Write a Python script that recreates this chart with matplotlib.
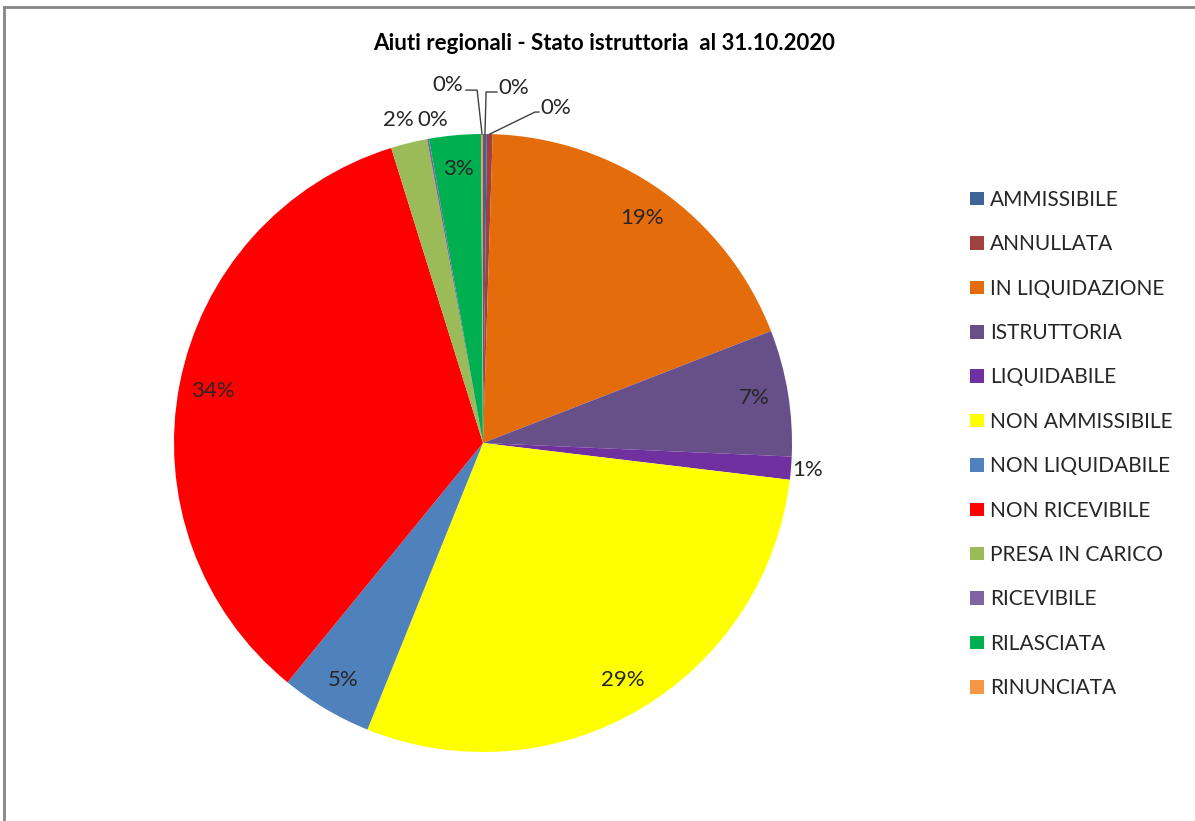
import numpy as np
import matplotlib.pyplot as plt
from matplotlib.lines import Line2D

# data
categories = ['AMMISSIBILE', 'ANNULLATA', 'IN LIQUIDAZIONE', 'ISTRUTTORIA', 'LIQUIDABILE',
              'NON AMMISSIBILE', 'NON LIQUIDABILE', 'NON RICEVIBILE', 'PRESA IN CARICO',
              'RICEVIBILE', 'RILASCIATA', 'RINUNCIATA']
values = [0.2, 0.3, 18.6, 6.6, 1.2, 29.2, 4.8, 34.3, 1.9, 0.1, 2.7, 0.1]
colors = ['#3F6497', '#A0413E', '#E46C0A', '#674F89', '#7030A0', '#FFFF00',
          '#4F81BD', '#FF0000', '#9BBB59', '#8064A2', '#00B050', '#F79646']
title = 'Aiuti regionali - Stato istruttoria  al 31.10.2020'

plt.rcParams['font.family'] = ['Lato', 'DejaVu Sans']

W, H = 1195, 821
fig = plt.figure(figsize=(W / 100, H / 100), dpi=100)

# pie centre and radius in pixels
cx, cy, rad = 483, 443, 309
ax = fig.add_axes([(cx - rad) / W, (H - cy - rad) / H, 2 * rad / W, 2 * rad / H])
wedges, _ = ax.pie(values, colors=colors, startangle=90, counterclock=False,
                   radius=1, wedgeprops=dict(linewidth=0))
ax.set_xlim(-1, 1)
ax.set_ylim(-1, 1)
ax.axis('off')

# label placement
outside = {'LIQUIDABILE': 1.055}
fixed = {'PRESA IN CARICO': (-0.275, 1.045), 'RICEVIBILE': (-0.162, 1.045)}
# text pos, elbow, line end x
leaders = {'RINUNCIATA': ((-0.113, 1.160), (-0.019, 1.142), -0.055),
           'AMMISSIBILE': ((0.100, 1.150), (0.010, 1.136), 0.045),
           'ANNULLATA': ((0.236, 1.085), (0.168, 1.071), 0.181)}

for w, name, v in zip(wedges, categories, values):
    ang = np.deg2rad((w.theta1 + w.theta2) / 2)
    txt = '{:.0f}%'.format(v)
    if name in leaders:
        (tx, ty), (ex, ey), lx = leaders[name]
        ax.plot([np.cos(ang), ex, lx], [np.sin(ang), ey, ey], color='#404040',
                lw=1, clip_on=False)
    elif name in fixed:
        tx, ty = fixed[name]
    else:
        r = outside.get(name, 0.89)
        tx, ty = r * np.cos(ang), r * np.sin(ang)
    ax.text(tx, ty, txt, ha='center', va='center', fontsize=16, color='#262626')

ax.legend(wedges, categories, loc='upper left', bbox_to_anchor=(970 / W, 1 - 190 / H),
          bbox_transform=fig.transFigure, frameon=False, fontsize=15,
          handlelength=0.67, handleheight=0.62, handletextpad=0.29,
          labelspacing=1.17, borderpad=0, borderaxespad=0, labelcolor='#262626')

fig.text(604 / W, 1 - 44 / H, title, ha='center', va='center', fontsize=16,
         fontweight='bold', color='black')

# chart frame
fig.add_artist(Line2D([3.5 / W, 3.5 / W], [0, 1 - 7.5 / H], color='#868686', lw=2))
fig.add_artist(Line2D([3.5 / W, 1], [1 - 7.5 / H, 1 - 7.5 / H], color='#868686', lw=2))

fig.savefig('out.png', dpi=100, facecolor='white')
